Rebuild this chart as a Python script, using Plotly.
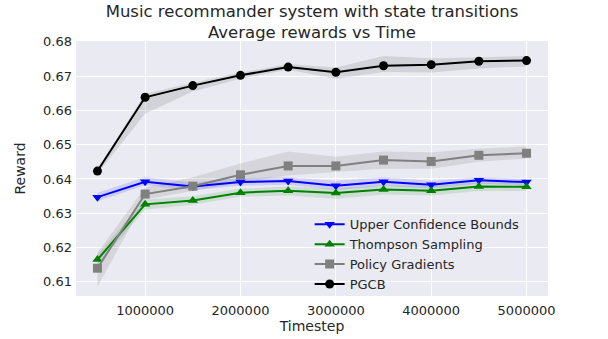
import plotly.graph_objects as go

timesteps = [500000, 1000000, 1500000, 2000000, 2500000, 3000000, 3500000, 4000000, 4500000, 5000000]

ucb_mean = [0.6347, 0.6392, 0.6378, 0.6391, 0.6394, 0.6380, 0.6392, 0.6383, 0.6396, 0.6391]
ucb_low = [0.6335, 0.6382, 0.6368, 0.6380, 0.6383, 0.6368, 0.6380, 0.6372, 0.6386, 0.6382]
ucb_high = [0.6360, 0.6405, 0.6390, 0.6403, 0.6405, 0.6395, 0.6405, 0.6395, 0.6405, 0.6400]

ts_mean = [0.6165, 0.6326, 0.6337, 0.6360, 0.6366, 0.6359, 0.6369, 0.6366, 0.6378, 0.6377]
ts_low = [0.6150, 0.6310, 0.6325, 0.6348, 0.6352, 0.6342, 0.6355, 0.6352, 0.6365, 0.6365]
ts_high = [0.6180, 0.6340, 0.6350, 0.6372, 0.6378, 0.6372, 0.6382, 0.6380, 0.6390, 0.6388]

pg_mean = [0.6140, 0.6356, 0.6379, 0.6412, 0.6438, 0.6438, 0.6455, 0.6451, 0.6469, 0.6475]
pg_low = [0.6085, 0.6340, 0.6365, 0.6390, 0.6410, 0.6420, 0.6430, 0.6430, 0.6450, 0.6460]
pg_high = [0.6185, 0.6375, 0.6405, 0.6445, 0.6480, 0.6465, 0.6480, 0.6478, 0.6488, 0.6495]

pgcb_mean = [0.6423, 0.6638, 0.6672, 0.6702, 0.6726, 0.6711, 0.6730, 0.6733, 0.6743, 0.6745]
pgcb_low = [0.6415, 0.6590, 0.6655, 0.6692, 0.6718, 0.6692, 0.6712, 0.6710, 0.6722, 0.6728]
pgcb_high = [0.6430, 0.6648, 0.6680, 0.6710, 0.6735, 0.6725, 0.6758, 0.6752, 0.6755, 0.6758]

x_ticks = [1000000, 2000000, 3000000, 4000000, 5000000]
y_ticks = [0.61, 0.62, 0.63, 0.64, 0.65, 0.66, 0.67, 0.68]

series = [
    ('Upper Confidence Bounds', ucb_mean, ucb_low, ucb_high, '#0000ff', 'rgba(0,0,255,0.12)', 'triangle-down'),
    ('Thompson Sampling', ts_mean, ts_low, ts_high, '#008000', 'rgba(0,128,0,0.12)', 'triangle-up'),
    ('Policy Gradients', pg_mean, pg_low, pg_high, '#808080', 'rgba(128,128,128,0.2)', 'square'),
    ('PGCB', pgcb_mean, pgcb_low, pgcb_high, '#000000', 'rgba(0,0,0,0.1)', 'circle'),
]

fig = go.Figure()

# shaded bands first so the lines sit on top
for name, mean, low, high, color, fill, symbol in series:
    fig.add_trace(go.Scatter(
        x=timesteps + timesteps[::-1],
        y=high + low[::-1],
        fill='toself',
        fillcolor=fill,
        line=dict(width=0),
        mode='lines',
        hoverinfo='skip',
        showlegend=False
    ))

for name, mean, low, high, color, fill, symbol in series:
    fig.add_trace(go.Scatter(
        x=timesteps,
        y=mean,
        name=name,
        mode='lines+markers',
        line=dict(color=color, width=2),
        marker=dict(symbol=symbol, size=9, color=color)
    ))

fig.update_layout(
    width=608,
    height=339,
    margin=dict(l=76, r=60, t=41, b=43),
    paper_bgcolor='white',
    plot_bgcolor='#eaeaf2',
    font=dict(family='DejaVu Sans', size=13, color='#262626'),
    title=dict(
        text='Music recommander system with state transitions<br>Average rewards vs Time',
        x=0.5, xref='paper', xanchor='center',
        y=1 - 16.5 / 339, yref='container', yanchor='middle',
        font=dict(size=16.5, color='#262626')
    ),
    legend=dict(
        x=0.495, y=0.34, xanchor='left', yanchor='top',
        bgcolor='rgba(0,0,0,0)',
        font=dict(size=13),
        tracegroupgap=0
    ),
    xaxis=dict(
        range=[275000, 5225000],
        tickvals=x_ticks,
        tickformat='d',
        showgrid=True, gridcolor='white', gridwidth=1.2,
        zeroline=False, showline=False,
        ticks='', ticklabelstandoff=5, automargin=False,
        title=dict(text='Timestep', font=dict(size=14), standoff=4)
    ),
    yaxis=dict(
        range=[0.6059, 0.6802],
        tickvals=y_ticks,
        tickformat='.2f',
        showgrid=True, gridcolor='white', gridwidth=1.2,
        zeroline=False, showline=False,
        ticks='', ticklabelstandoff=3, automargin=False,
        title=dict(text='Reward', font=dict(size=14), standoff=14)
    )
)

# the browser's default body margin would push the figure 8px right and down
fig.write_html("out.html", config={'displayModeBar': False},
               post_script="document.body.style.margin='0';")
